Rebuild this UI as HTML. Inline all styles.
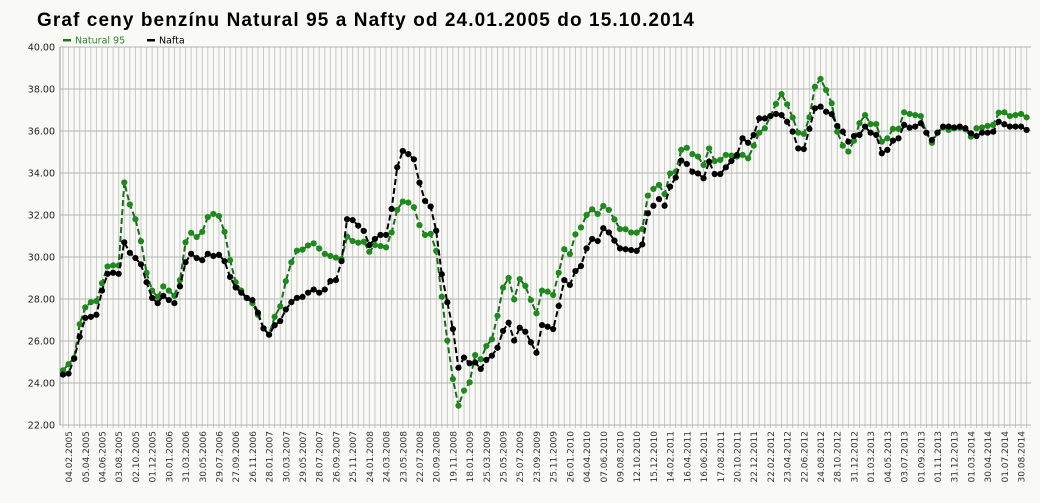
<!DOCTYPE html>
<html><head><meta charset="utf-8"><style>
body{margin:0;background:#f9f9f6;}
svg{display:block;font-family:"DejaVu Sans","Liberation Sans",sans-serif;}
</style></head><body>
<svg id="chart" width="1040" height="503">
<rect width="1040" height="503" fill="#f9f9f6"/>
<text x="37" y="26" font-family="Liberation Sans, sans-serif" font-weight="bold" font-size="19" textLength="657" fill="#000">Graf ceny benzínu Natural 95 a Nafty od 24.01.2005 do 15.10.2014</text>
<g>
<g><rect x="63" y="39" width="8" height="2.5" fill="#1a7a1a"/><text x="75" y="43.5" font-size="9.5" fill="#2a8a2a">Natural 95</text></g>
<g><rect x="147" y="39" width="8" height="2.5" fill="#000"/><text x="159" y="43.5" font-size="9.5" fill="#000">Nafta</text></g>
</g>
<g id="grid"></g><g id="yaxis"></g><g id="xaxis"></g><g id="series"></g>
</svg>
<script>
const natural95 = [24.6,24.9,25.2,26.8,27.6,27.85,27.9,28.75,29.55,29.6,29.6,33.55,32.5,31.8,30.75,29.25,28.4,28.1,28.6,28.4,28.15,28.9,30.7,31.15,30.95,31.2,31.9,32.05,31.95,31.2,29.85,28.8,28.4,28.05,27.8,27.25,26.6,26.3,27.15,27.65,28.85,29.75,30.3,30.35,30.55,30.65,30.4,30.15,30.05,29.97,29.9,30.97,30.76,30.68,30.73,30.25,30.57,30.52,30.46,31.17,32.24,32.64,32.59,32.37,31.52,31.05,31.1,30.29,28.11,26.02,24.19,22.92,23.64,24.03,25.33,25.13,25.76,26.08,27.2,28.54,29.0,27.98,28.95,28.62,27.95,27.32,28.4,28.35,28.19,29.25,30.37,30.14,31.08,31.41,32.0,32.27,32.05,32.43,32.24,31.79,31.33,31.32,31.17,31.16,31.33,32.92,33.24,33.43,33.0,33.98,34.06,35.1,35.2,34.9,34.78,34.38,35.17,34.57,34.62,34.86,34.83,34.78,34.86,34.7,35.3,35.92,36.13,36.71,37.29,37.76,37.27,36.64,35.92,35.86,36.65,38.11,38.48,37.95,37.32,35.97,35.3,35.02,35.54,36.37,36.76,36.33,36.33,35.49,35.65,36.1,36.1,36.89,36.81,36.76,36.71,35.92,35.44,35.92,36.17,36.05,36.13,36.16,36.08,35.73,36.13,36.17,36.24,36.29,36.87,36.89,36.71,36.76,36.81,36.65];
const nafta = [24.4,24.45,25.16,26.2,27.1,27.15,27.25,28.4,29.2,29.25,29.2,30.7,30.2,29.95,29.65,28.8,28.05,27.8,28.15,27.95,27.8,28.6,29.75,30.15,29.95,29.85,30.15,30.05,30.1,29.8,29.05,28.55,28.3,28.05,27.95,27.35,26.6,26.3,26.75,26.95,27.5,27.85,28.05,28.1,28.3,28.45,28.3,28.45,28.85,28.9,29.8,31.8,31.76,31.49,31.24,30.57,30.86,31.05,31.05,32.29,34.27,35.05,34.9,34.65,33.54,32.67,32.4,31.25,29.18,27.84,26.57,24.73,25.21,24.94,24.98,24.67,25.1,25.3,25.68,26.48,26.87,26.02,26.63,26.44,25.94,25.44,26.76,26.68,26.57,27.67,28.9,28.67,29.33,29.57,30.41,30.86,30.76,31.37,31.17,30.78,30.41,30.37,30.33,30.29,30.6,32.08,32.44,32.76,32.44,33.35,33.78,34.59,34.43,34.06,33.98,33.75,34.54,33.95,33.95,34.27,34.57,34.86,35.65,35.44,35.81,36.6,36.6,36.71,36.81,36.76,36.44,35.97,35.17,35.14,36.1,37.08,37.16,36.92,36.8,36.24,35.97,35.49,35.76,35.81,36.21,35.92,35.81,34.94,35.1,35.54,35.65,36.29,36.16,36.21,36.37,35.92,35.57,35.92,36.21,36.21,36.17,36.21,36.13,35.89,35.76,35.92,35.92,35.97,36.44,36.32,36.21,36.21,36.21,36.05];
const xLabels = ["04.02.2005","05.04.2005","04.06.2005","03.08.2005","02.10.2005","01.12.2005","30.01.2006","31.03.2006","30.05.2006","29.07.2006","27.09.2006","26.11.2006","28.01.2007","30.03.2007","29.05.2007","28.07.2007","26.09.2007","25.11.2007","24.01.2008","24.03.2008","23.05.2008","22.07.2008","20.09.2008","19.11.2008","18.01.2009","25.03.2009","25.05.2009","25.07.2009","23.09.2009","25.11.2009","26.01.2010","04.04.2010","07.06.2010","09.08.2010","12.10.2010","15.12.2010","14.02.2011","16.04.2011","16.06.2011","17.08.2011","20.10.2011","22.12.2011","22.02.2012","23.04.2012","22.06.2012","24.08.2012","28.10.2012","31.12.2012","01.03.2013","04.05.2013","03.07.2013","01.09.2013","01.11.2013","31.12.2013","01.03.2014","30.04.2014","01.07.2014","30.08.2014"];
const yTicks = [22,24,26,28,30,32,34,36,38,40];

const NS="http://www.w3.org/2000/svg";
const X0=63, STEP=5.57, PL=60, PR=1031, PT=47, PB=425, YMIN=22, YMAX=40;
const N = Math.max(natural95.length, nafta.length);
const xs = i => X0 + i*STEP;
const ys = v => PB - (v-YMIN)/(YMAX-YMIN)*(PB-PT);
function mk(tag, attrs, parent){const e=document.createElementNS(NS,tag);for(const k in attrs)e.setAttribute(k,attrs[k]);parent.appendChild(e);return e;}
const grid=document.getElementById('grid'), yax=document.getElementById('yaxis'), xax=document.getElementById('xaxis'), ser=document.getElementById('series');
for(let i=0;i<N;i++){
  const g=mk('line',{x1:xs(i),x2:xs(i),y1:PT,y2:PB+3,stroke:'#c8c8c8','stroke-width':1},grid);
  
  
}
yTicks.forEach(t=>{
  const l=mk('line',{x1:PL,x2:PR,y1:ys(t),y2:ys(t),stroke:'#b4b4b4','stroke-width':1},grid);
  
  
  const tx=mk('text',{x:55,y:ys(t)+3.5,'text-anchor':'end','font-size':9.5,fill:'#222'},yax);
  tx.textContent=t.toFixed(2);
  
  
});
const ax=mk('line',{x1:PL,x2:PL,y1:PT,y2:PB,stroke:'#999','stroke-width':1},yax);


xLabels.forEach((lab,k)=>{
  const x=xs(1+3*k);
  const tx=mk('text',{x:0,y:0,'text-anchor':'end','font-size':9,fill:'#333',transform:`translate(${x+3.5},431) rotate(-90)`},xax);
  tx.textContent=lab;
  
  
});
function drawSeries(data, lineCol, dotCol, name){
  const g=mk('g',{},ser);
  
  
  const pts=data.map((v,i)=>xs(i)+','+ys(v)).join(' ');
  const pl=mk('polyline',{points:pts,fill:'none',stroke:lineCol,'stroke-width':2,'stroke-dasharray':'6 3'},g);
  
  
  data.forEach((v,i)=>{
    const c=mk('circle',{cx:xs(i),cy:ys(v),r:3.1,fill:dotCol},g);
    
    
  });
}
drawSeries(natural95,'#1a6e1a','#1e8a1e','natural95');
drawSeries(nafta,'#000','#000','nafta');
</script>
</body></html>
